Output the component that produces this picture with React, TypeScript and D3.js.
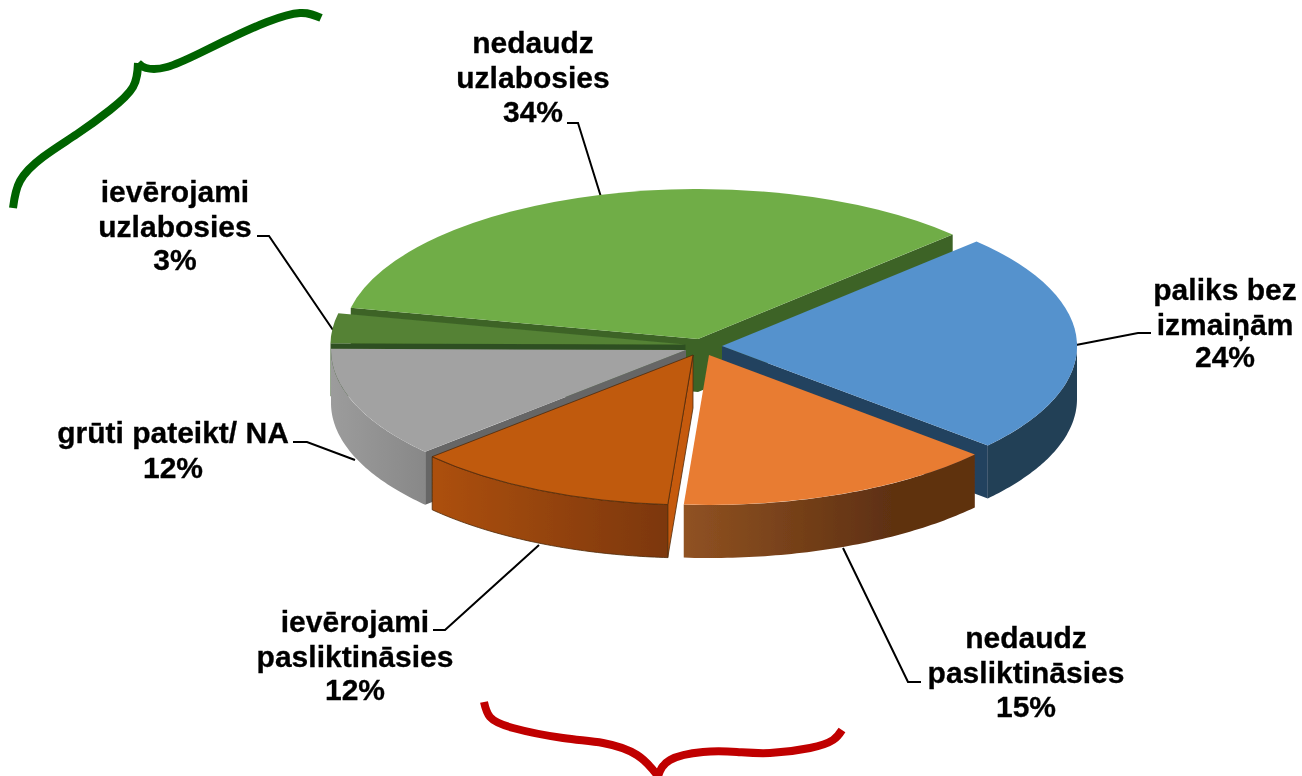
import React from "react";
import * as d3 from "d3";

// ---- data ----
const categories = ["nedaudz uzlabosies", "paliks bez izmaiņām", "nedaudz pasliktināsies", "ievērojami pasliktināsies", "grūti pateikt/ NA", "ievērojami uzlabosies"];
const shares = [34.4, 23.8, 14.6, 12, 12, 3.2];
const topColors = ["#70ad47", "#5592cd", "#e87b30", "#c05a10", "#a2a2a2", "#548235"];
const cutColors = ["#3e6428", "#24425e", "#6b3a12", "#c55a11", "#666666", "#2f5020"];
const wallFrom = ["#3e6428", "#243f56", "#905222", "#ad500e", "#9c9c9c", "#3e6428"];
const wallTo = ["#3e6428", "#243f56", "#5e3011", "#7c3707", "#888888", "#3e6428"];
const sliceOutline = ["none", "none", "none", "#4f2a08", "none", "none"];

const labelLines = [
  ["nedaudz", "uzlabosies", "34%"],
  ["paliks bez", "izmaiņām", "24%"],
  ["nedaudz", "pasliktināsies", "15%"],
  ["ievērojami", "pasliktināsies", "12%"],
  ["grūti pateikt/ NA", "12%"],
  ["ievērojami", "uzlabosies", "3%"],
];

// ---- layout ----
const W = 1302;
const H = 776;
const RX = 355;
const RY = 150;
const DEPTH = 53;
const START_DEG = -78;
const drawOrder = [0, 5, 4, 1, 2, 3];
const centers: [number, number][] = [[698, 339], [722, 346], [709, 355], [693, 355], [686, 350], [685.5, 344.5]];
const labelX = [533, 1225, 1026, 355, 173, 175];
const labelBaselines = [
  [53, 88, 122],
  [300, 335, 367],
  [648, 683, 717],
  [632, 667, 700],
  [443, 478],
  [202, 237, 270],
];
const leaders: [number, number][][] = [
  [[567, 123], [578, 123], [601, 197]],
  [[1151, 333], [1138, 333], [1076, 345]],
  [[921, 682], [908, 682], [843, 548]],
  [[433, 630], [445, 630], [539, 545]],
  [[293, 442], [307, 442], [355, 460]],
  [[257, 236], [269, 236], [333, 330]],
];
const greenBraceA: [number, number][] = [[13, 208], [20, 181], [43, 157], [77, 134], [110, 110], [133, 87], [138, 63]];
const greenBraceB: [number, number][] = [[138, 63], [146, 68], [167, 67], [200, 53], [233, 37], [267, 22], [300, 13], [321, 18]];
const redBraceA: [number, number][] = [[484, 702], [490, 717], [513, 728], [563, 738], [603, 743], [637, 755], [658, 776]];
const redBraceB: [number, number][] = [[658, 776], [670, 760], [703, 752], [737, 752], [770, 753], [810, 748], [833, 740], [842, 730]];

const pieGen = d3
  .pie<number>()
  .sort(null)
  .startAngle((START_DEG * Math.PI) / 180)
  .endAngle((START_DEG * Math.PI) / 180 + 2 * Math.PI);
const arcs = pieGen(shares);
const unitArc = d3.arc<any>().innerRadius(0).outerRadius(1);
const line = d3.line();
const smooth = d3.line().curve(d3.curveNatural);

const pt = (i: number, a: number, dy = 0): [number, number] => [
  centers[i][0] + RX * Math.sin(a),
  centers[i][1] - RY * Math.cos(a) + dy,
];

function wallPath(i: number, s: number, e: number) {
  const n = 60;
  const top = d3.range(n + 1).map((k) => pt(i, s + ((e - s) * k) / n));
  const bot = top.slice().reverse().map(([x, y]) => [x, y + DEPTH] as [number, number]);
  return line([...top, ...bot]) + "Z";
}
function cutPath(i: number, a: number) {
  const [cx, cy] = centers[i];
  const p = pt(i, a);
  return line([[cx, cy], p, [p[0], p[1] + DEPTH], [cx, cy + DEPTH]]) + "Z";
}

export default function App() {
  return (
    <svg width={W} height={H} viewBox={`0 0 ${W} ${H}`} style={{ position: "absolute", left: 0, top: 0, background: "#fff" }}>
      <defs>
        <filter id="soft" x="0" y="0" width="1" height="1" filterUnits="objectBoundingBox">
          <feGaussianBlur stdDeviation="0.45" />
        </filter>
        {arcs.map((d, i) => {
          const s = Math.max(d.startAngle, Math.PI / 2);
          const e = Math.min(d.endAngle, 1.5 * Math.PI);
          const x1 = s < e ? pt(i, e)[0] : 0;
          const x2 = s < e ? pt(i, s)[0] : 1;
          // the orange wall reaches its darkest tone before its right end
          const stopAt = i === 2 ? 0.72 : 1;
          return (
            <linearGradient key={i} id={`wall${i}`} gradientUnits="userSpaceOnUse" x1={x1} x2={x2} y1={0} y2={0}>
              <stop offset={0} stopColor={wallFrom[i]} />
              <stop offset={stopAt} stopColor={wallTo[i]} />
            </linearGradient>
          );
        })}
      </defs>

      <g filter="url(#soft)">
        <rect width={W} height={H} fill="#fff" />
        {leaders.map((l, i) => (
          <path key={i} d={line(l) || ""} fill="none" stroke="#000" strokeWidth={2} />
        ))}

        {drawOrder.map((i) => {
          const d = arcs[i];
          const s = d.startAngle;
          const e = d.endAngle;
          const ws = Math.max(s, Math.PI / 2);
          const we = Math.min(e, 1.5 * Math.PI);
          const [cx, cy] = centers[i];
          const outline = sliceOutline[i];
          return (
            <g key={categories[i]} stroke={outline} strokeWidth={outline === "none" ? 0 : 0.8}>
              {Math.sin(s) < 0 && <path d={cutPath(i, s)} fill={cutColors[i]} />}
              {Math.sin(e) > 0 && <path d={cutPath(i, e)} fill={cutColors[i]} />}
              {ws < we && <path d={wallPath(i, ws, we)} fill={`url(#wall${i})`} />}
              <path
                d={unitArc(d) || ""}
                transform={`translate(${cx},${cy}) scale(${RX},${RY})`}
                fill={topColors[i]}
                vectorEffect="non-scaling-stroke"
              />
            </g>
          );
        })}

        {labelLines.map((lines, i) => (
          <text key={i} textAnchor="middle" fontFamily="'Liberation Sans', Arial, sans-serif" fontWeight="bold" fontSize={30} fill="#000" stroke="#000" strokeWidth={0.3}>
            {lines.map((t, j) => (
              <tspan key={j} x={labelX[i]} y={labelBaselines[i][j]}>
                {t}
              </tspan>
            ))}
          </text>
        ))}

        {[greenBraceA, greenBraceB].map((b, i) => (
          <path key={i} d={smooth(b) || ""} fill="none" stroke="#006400" strokeWidth={8} />
        ))}
        {[redBraceA, redBraceB].map((b, i) => (
          <path key={i} d={smooth(b) || ""} fill="none" stroke="#c00000" strokeWidth={8} />
        ))}
      </g>
    </svg>
  );
}
